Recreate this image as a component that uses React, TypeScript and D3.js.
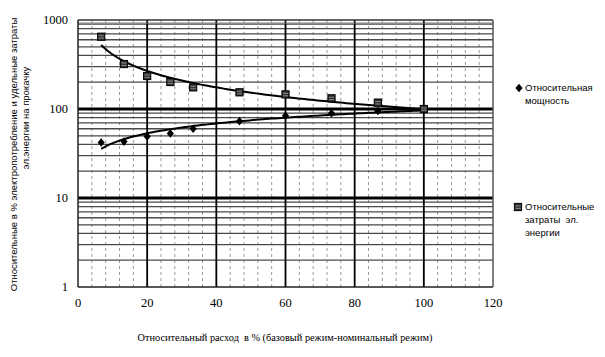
import React from "react";
import * as d3 from "d3";

const flow = [6.7, 13.3, 20, 26.7, 33.3, 46.7, 60, 73.3, 86.7, 100];
const powerRel = [42, 43, 49, 53, 60, 73, 84, 89.5, 95, 100];
const energyRel = [649, 320, 235, 201, 175, 154, 146, 132, 118, 100];
const xTicks = [0, 20, 40, 60, 80, 100, 120];
const yTicks = [1, 10, 100, 1000];
const legendPower = ["Относительная", "мощность"];
const legendEnergy = ["Относительные", "затраты  эл.", "энергии"];
const yTitle1 = "Относительные в % электропотребление и удельные затраты";
const yTitle2 = "эл.энергии на прокачку";
const xTitle = "Относительный расход  в % (базовый режим-номинальный режим)";

const W = 605, H = 357;
const L = 78, R = 493, T = 20, B = 287;

function powerFit(xs: number[], ys: number[]) {
  const lx = xs.map(Math.log10), ly = ys.map(Math.log10);
  const mx = d3.mean(lx)!, my = d3.mean(ly)!;
  let sxy = 0, sxx = 0;
  lx.forEach((v, i) => { sxy += (v - mx) * (ly[i] - my); sxx += (v - mx) ** 2; });
  const b = sxy / sxx;
  const a = my - b * mx;
  return (x: number) => Math.pow(10, a + b * Math.log10(x));
}

const diamond = "M0,-4.3 L3.6,0 L0,4.3 L-3.6,0 Z";

function SquareMark() {
  return (
    <g>
      <rect x={-3.6} y={-3.6} width={7.2} height={7.2} fill="#333" stroke="#000" strokeWidth={1} />
      <path d="M-2.6,-1 L2.6,-1 M-2.6,1.4 L2.6,1.4" stroke="#9a9a9a" strokeWidth={0.8} />
    </g>
  );
}

export default function App() {
  const x = d3.scaleLinear().domain([0, 120]).range([L, R]);
  const y = d3.scaleLog().domain([1, 1000]).range([B, T]);

  const minorX = d3.range(4, 120, 4).filter((v) => v % 20 !== 0);
  const majorX = [20, 40, 60, 80, 100];
  const minorY: number[] = [];
  [1, 10, 100].forEach((dec) => { for (let k = 2; k <= 9; k++) minorY.push(dec * k); });

  const fitP = powerFit(flow, powerRel);
  const fitE = powerFit(flow, energyRel);
  const xs = d3.range(0, 101).map((i) => flow[0] + (flow[flow.length - 1] - flow[0]) * i / 100);
  const pathP = d3.line<number>().x((v) => x(v)).y((v) => y(fitP(v)))(xs)!;
  const pathE = d3.line<number>().x((v) => x(v)).y((v) => y(fitE(v)))(xs)!;

  const serif = "'Liberation Serif', 'Times New Roman', serif";
  const sans = "'Liberation Sans', Arial, sans-serif";
  const pre = { whiteSpace: "pre" as const };

  return (
    <svg width={W} height={H} style={{ position: "absolute", left: 0, top: 0, background: "#fff" }}>
      {minorX.map((v) => (
        <line key={"mx" + v} x1={x(v)} x2={x(v)} y1={T} y2={B} stroke="#9a9a9a" strokeWidth={1} strokeDasharray="3,3" />
      ))}
      {minorY.map((v) => (
        <line key={"my" + v} x1={L} x2={R} y1={y(v)} y2={y(v)} stroke="#4a4a4a" strokeWidth={1.3} />
      ))}
      {majorX.map((v) => (
        <line key={"Mx" + v} x1={x(v)} x2={x(v)} y1={T} y2={B} stroke="#000" strokeWidth={1.8} />
      ))}
      {[10, 100].map((v) => (
        <line key={"My" + v} x1={L} x2={R} y1={y(v)} y2={y(v)} stroke="#000" strokeWidth={3.2} />
      ))}
      <line x1={L} x2={R} y1={T} y2={T} stroke="#333" strokeWidth={1.5} />
      <line x1={L} x2={R} y1={T + 3} y2={T + 3} stroke="#777" strokeWidth={1} />
      <line x1={L} x2={R} y1={B} y2={B} stroke="#222" strokeWidth={1.5} />
      <line x1={L} x2={L} y1={T} y2={B} stroke="#222" strokeWidth={1.5} />
      <line x1={R} x2={R} y1={T} y2={B} stroke="#555" strokeWidth={1.5} />

      <path d={pathE} fill="none" stroke="#000" strokeWidth={2} />
      <path d={pathP} fill="none" stroke="#000" strokeWidth={2} />

      {flow.map((f, i) => (
        <path key={"d" + i} d={diamond} transform={`translate(${x(f)},${y(powerRel[i])})`} fill="#000" />
      ))}
      {flow.map((f, i) => (
        <g key={"s" + i} transform={`translate(${x(f)},${y(energyRel[i])})`}>
          <SquareMark />
        </g>
      ))}

      {yTicks.map((v) => (
        <text key={"yt" + v} x={L - 10} y={y(v)} dy="0.35em" textAnchor="end" fontFamily={serif} fontSize={12.5}>{v}</text>
      ))}
      {xTicks.map((v) => (
        <text key={"xt" + v} x={x(v)} y={B + 20} textAnchor="middle" fontFamily={serif} fontSize={12.5}>{v}</text>
      ))}

      <text x={285} y={341} textAnchor="middle" fontFamily={serif} fontSize={10.3} style={pre}>{xTitle}</text>
      <text transform={`translate(17,${(T + B) / 2 + 1}) rotate(-90)`} textAnchor="middle" fontFamily={sans} fontSize={9.5}>{yTitle1}</text>
      <text transform={`translate(29,118) rotate(-90)`} textAnchor="middle" fontFamily={sans} fontSize={9.5}>{yTitle2}</text>

      <path d={diamond} transform="translate(519,88)" fill="#000" />
      {legendPower.map((t, i) => (
        <text key={"lp" + i} x={525} y={88 + i * 13} dy="0.35em" fontFamily={sans} fontSize={9.5}>{t}</text>
      ))}
      <g transform="translate(518,207)">
        <SquareMark />
      </g>
      {legendEnergy.map((t, i) => (
        <text key={"le" + i} x={525} y={207 + i * 13} dy="0.35em" fontFamily={sans} fontSize={9.5} style={pre}>{t}</text>
      ))}
    </svg>
  );
}
